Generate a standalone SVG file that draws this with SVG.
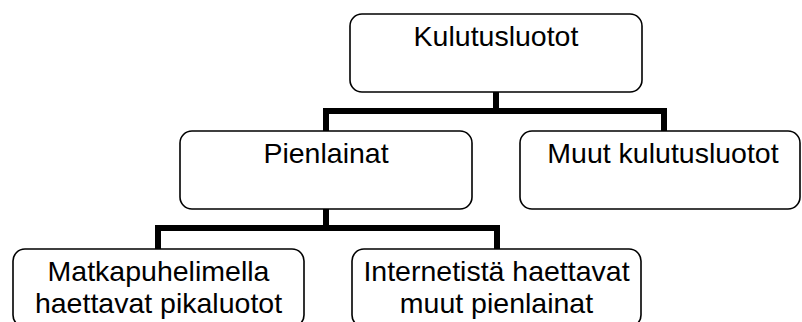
<svg xmlns="http://www.w3.org/2000/svg" width="802" height="322" viewBox="0 0 802 322">
<style>
.box{fill:#fff;stroke:#000;stroke-width:1.6}
.lbl{font-family:"Liberation Sans",Arial,sans-serif;font-size:28.5px;fill:#000;text-anchor:middle}
.conn{fill:none;stroke:#000;stroke-width:6;stroke-linecap:square;stroke-linejoin:miter}
</style>
<rect width="802" height="322" fill="#fff"/>
<g id="connectors">
<path class="conn" d="M496 93 V111 M326 111 H664 M326 111 V130 M664 111 V130"/>
<path class="conn" d="M326 211 V228 M158 228 H497 M158 228 V248 M497 228 V248"/>
</g>
<g id="kulutusluotot">
<rect class="box" x="350" y="14" width="292" height="78" rx="12"/>
<text class="lbl" x="496" y="46">Kulutusluotot</text>
</g>
<g id="pienlainat">
<rect class="box" x="180" y="131" width="292" height="78" rx="12"/>
<text class="lbl" x="326" y="163">Pienlainat</text>
</g>
<g id="muut">
<rect class="box" x="520" y="131" width="280" height="78" rx="12"/>
<text class="lbl" x="663" y="163">Muut kulutusluotot</text>
</g>
<g id="matkapuhelimella">
<rect class="box" x="13" y="249" width="291" height="78" rx="12"/>
<text class="lbl" x="158.5" y="281">Matkapuhelimella</text>
<text class="lbl" x="158.5" y="313">haettavat pikaluotot</text>
</g>
<g id="internetista">
<rect class="box" x="352" y="249" width="289" height="78" rx="12"/>
<text class="lbl" x="496.5" y="281">Internetistä haettavat</text>
<text class="lbl" x="496.5" y="313">muut pienlainat</text>
</g>
</svg>
